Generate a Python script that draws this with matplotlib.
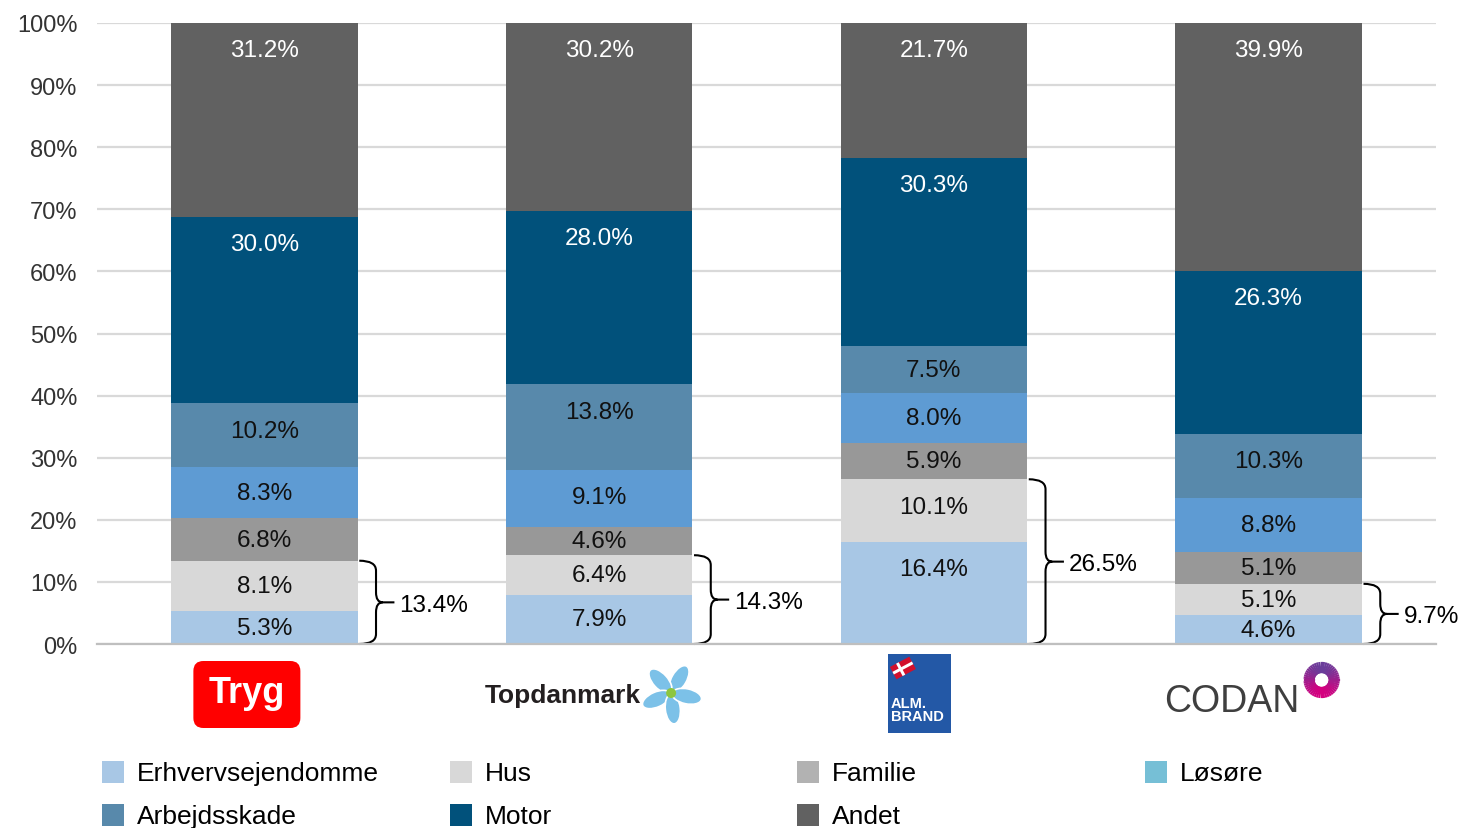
import numpy as np
import matplotlib
matplotlib.use('Agg')
import matplotlib.pyplot as plt
from matplotlib.path import Path
from matplotlib.patches import PathPatch, FancyBboxPatch, Rectangle, Ellipse, Polygon, Circle
from matplotlib.ticker import FuncFormatter
from matplotlib.colors import LinearSegmentedColormap

plt.rcParams['font.family'] = ['Liberation Sans', 'DejaVu Sans']

# data (percent of portfolio)
companies = ['Tryg', 'Topdanmark', 'Alm. Brand', 'Codan']
categories = ['Erhvervsejendomme', 'Hus', 'Familie', 'Løsøre', 'Arbejdsskade', 'Motor', 'Andet']
erhverv = [5.3, 7.9, 16.4, 4.6]
hus = [8.1, 6.4, 10.1, 5.1]
familie = [6.8, 4.6, 5.9, 5.1]
losore = [8.3, 9.1, 8.0, 8.8]
arbejdsskade = [10.2, 13.8, 7.5, 10.3]
motor = [30.0, 28.0, 30.3, 26.3]
andet = [31.2, 30.2, 21.7, 39.9]
bracket_totals = [13.4, 14.3, 26.5, 9.7]

bar_colors = ['#a8c7e5', '#d8d8d8', '#989898', '#5e9bd3', '#5889ab', '#01517b', '#616161']
legend_colors = ['#a8c7e5', '#d8d8d8', '#b2b2b2', '#76bfd6', '#5889ab', '#01517b', '#616161']
label_colors = ['#111111'] * 5 + ['white', 'white']

series = np.array([erhverv, hus, familie, losore, arbejdsskade, motor, andet])
totals = series.sum(axis=0)
heights = series / totals * 100  # 100% stacked

W, H = 1460, 829
fig = plt.figure(figsize=(W / 100, H / 100), dpi=100)
ax = fig.add_axes([97 / W, 1 - 645 / H, (1436 - 97) / W, (645 - 24) / H])

x = np.arange(len(companies))
bw = 0.557
bottom = np.zeros(len(companies))
for k in range(len(categories)):
    ax.bar(x, heights[k], bw, bottom=bottom, color=bar_colors[k], zorder=3)
    for i in range(len(companies)):
        top = bottom[i] + heights[k][i]
        ylab = max(bottom[i] + heights[k][i] / 2, top - 4.4)
        ax.text(x[i], ylab, '%.1f%%' % series[k][i], ha='center', va='center',
                fontsize=17.5, color=label_colors[k], zorder=4)
    bottom += heights[k]

# curly brackets around the two bottom segments
for i in range(len(companies)):
    right = x[i] + bw / 2
    top = heights[0][i] + heights[1][i]
    mid = top / 2
    r = 1.6
    x0, x1, xm, xt = right + 0.005, right + 0.055, right + 0.075, right + 0.11
    verts = [(x0, top), (x1, top), (x1, top - r), (x1, mid + r), (x1, mid), (xm, mid),
             (x1, mid), (x1, mid - r), (x1, 0 + r), (x1, 0), (x0, 0),
             (xm, mid), (xt, mid)]
    codes = [Path.MOVETO, Path.CURVE3, Path.CURVE3, Path.LINETO, Path.CURVE3, Path.CURVE3,
             Path.CURVE3, Path.CURVE3, Path.LINETO, Path.CURVE3, Path.CURVE3,
             Path.MOVETO, Path.LINETO]
    ax.add_patch(PathPatch(Path(verts, codes), fill=False, lw=1.5, color='black',
                           clip_on=False, zorder=5))
    ax.text(right + 0.125, mid - 0.4, '%.1f%%' % bracket_totals[i], ha='left', va='center',
            fontsize=17.5, color='black')

ax.set_xlim(-0.5, 3.5)
ax.set_ylim(0, 100)
ax.set_yticks(np.arange(0, 101, 10))
ax.yaxis.set_major_formatter(FuncFormatter(lambda v, p: '%d%%' % v))
ax.tick_params(axis='y', length=0, pad=14, labelsize=17, labelcolor='#333333')
ax.set_xticks([])
ax.grid(axis='y', color='#d9d9d9', lw=1.6, zorder=0)
for s in ['top', 'right', 'left']:
    ax.spines[s].set_visible(False)
ax.spines['bottom'].set_color('#bfbfbf')
ax.spines['bottom'].set_linewidth(1.6)
ax.spines['bottom'].set_zorder(6)

# overlay in pixel coordinates for logos and legend
lax = fig.add_axes([0, 0, 1, 1])
lax.set_xlim(0, W)
lax.set_ylim(H, 0)
lax.axis('off')
lax.patch.set_alpha(0)
cx = [ax.transData.transform((xi, 0))[0] for xi in x]

# Tryg
c = cx[0]
lax.add_patch(FancyBboxPatch((c - 71, 662), 107, 67, boxstyle='round,pad=0,rounding_size=10',
                             fc='#ff0000', ec='none'))
lax.text(c - 18, 703, 'Tryg', color='white', fontsize=26, fontweight='bold',
         ha='center', va='baseline')

# Topdanmark
c = cx[1]
lax.text(c + 42, 703, 'Topdanmark', color='#231f20', fontsize=19, fontweight='bold',
         ha='right', va='baseline')
fx, fy = c + 72, 694
for a in [60, 132, 204, 276, 348]:
    t = np.radians(a)
    lax.add_patch(Ellipse((fx + 16 * np.cos(t), fy - 16 * np.sin(t)), 30, 15, angle=-a,
                          fc='#7cc1e8', ec='white', lw=1.2))
lax.add_patch(Circle((fx, fy), 5, fc='#8dc63f', ec='none'))

# Alm. Brand
c = cx[2]
lax.add_patch(Rectangle((c - 46, 655), 63, 79, fc='#2358a6', ec='none'))
fcx, fcy = c - 31, 669
rot = np.radians(28)
R = np.array([[np.cos(rot), np.sin(rot)], [-np.sin(rot), np.cos(rot)]])
def flag_poly(pts):
    return np.array(pts) @ R.T + [fcx, fcy]
lax.add_patch(Polygon(flag_poly([(-11, -7), (11, -7), (11, 7), (-11, 7)]), fc='#d2102c', ec='none'))
lax.add_patch(Polygon(flag_poly([(-4, -7), (-1, -7), (-1, 7), (-4, 7)]), fc='white', ec='none'))
lax.add_patch(Polygon(flag_poly([(-11, -1.5), (11, -1.5), (11, 1.5), (-11, 1.5)]), fc='white', ec='none'))
lax.text(c - 43, 708, 'ALM.', color='white', fontsize=10.5, fontweight='bold', ha='left', va='baseline')
lax.text(c - 43, 721, 'BRAND', color='white', fontsize=10.5, fontweight='bold', ha='left', va='baseline')

# Codan
c = cx[3]
lax.text(c - 37, 712, 'CODAN', color='#3f3f3f', fontsize=27, ha='center', va='baseline')
rcx, rcy = c + 53, 681
ring_cmap = LinearSegmentedColormap.from_list('ring', ['#6a3d9a', '#d4007f'])
for a in np.linspace(0, 360, 48, endpoint=False):
    t = np.radians(a)
    col = ring_cmap((1 - np.sin(t)) / 2)
    lax.plot([rcx + 8 * np.cos(t), rcx + 17 * np.cos(t)],
             [rcy - 8 * np.sin(t), rcy - 17 * np.sin(t)], color=col, lw=1.6)
lax.add_patch(Circle((rcx, rcy), 9, fc='none', ec='#b0108a', lw=2.5))
lax.add_patch(Circle((rcx, rcy), 7.5, fc='white', ec='none'))

# legend drawn by hand (4 columns, 2 rows)
col_x = [102, 450, 797, 1145]
row_y = [773, 816]
for k, name in enumerate(categories):
    r_, c_ = divmod(k, 4)
    lax.add_patch(Rectangle((col_x[c_], row_y[r_] - 11), 22, 22, fc=legend_colors[k], ec='none'))
    lax.text(col_x[c_] + 35, row_y[r_] + 1, name, fontsize=19, color='black', ha='left', va='center')

fig.savefig('out.png', dpi=100)
